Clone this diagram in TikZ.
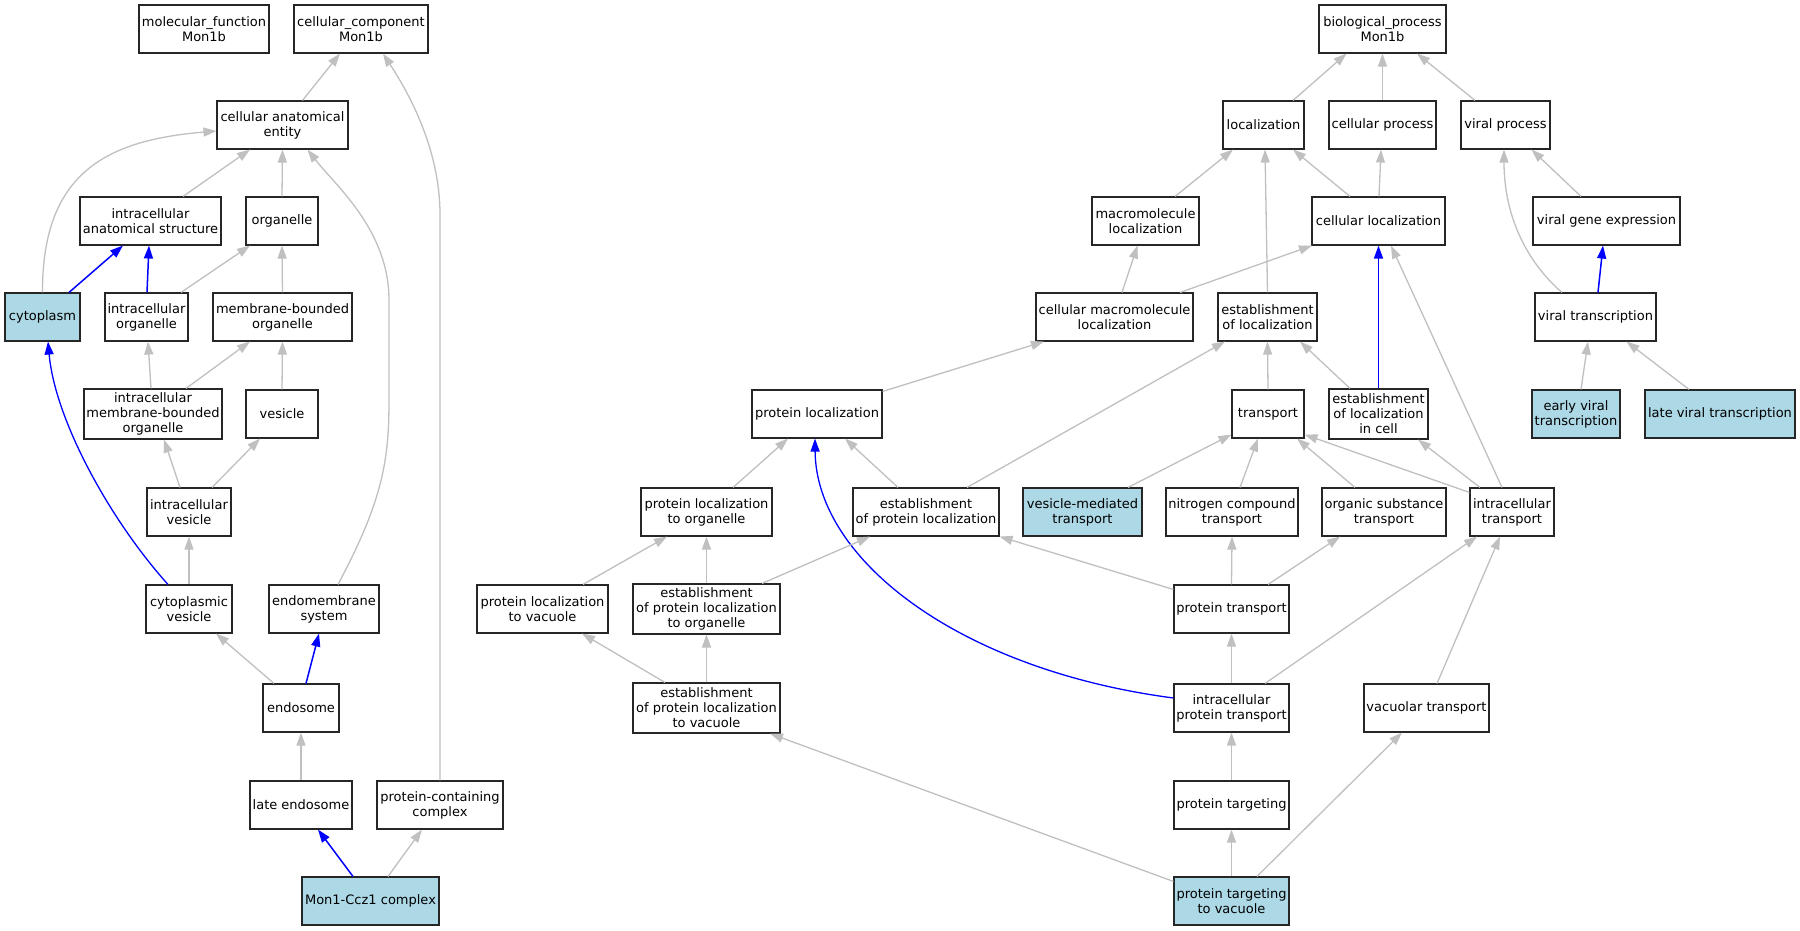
\documentclass[tikz,border=0pt]{standalone}
\usepackage{fontspec}
\setmainfont{DejaVu Sans}
\usetikzlibrary{arrows.meta}
\definecolor{lightblue}{HTML}{ADD8E6}
\definecolor{edgegray}{HTML}{C0C0C0}
\begin{document}
\begin{tikzpicture}[x=1pt,y=-1pt,
  box/.style={draw=black!85, line width=1.1pt, rectangle, inner sep=0pt, align=center,
    minimum height=48pt, font=\fontsize{13}{15}\selectfont, fill=white},
  hl/.style={box, fill=lightblue},
  gedge/.style={draw=edgegray, line width=1.3pt, -{Triangle[length=13pt,width=9pt]}},
  bedge/.style={draw=blue, line width=1.5pt, -{Triangle[length=13pt,width=9pt]}},
  bcurve/.style={draw=blue, line width=1.3pt, -{Triangle[length=13pt,width=9pt]}}
]
\useasboundingbox[fill=white] (0,0) rectangle (1800,931);

% ---------- left: cellular component ----------
\node[box, minimum width=130pt] (mf) at (204,29) {molecular\_function\\Mon1b};
\node[box, minimum width=134pt] (cc) at (361,29) {cellular\_component\\Mon1b};
\node[box, minimum width=131pt] (cae) at (282.5,125) {cellular anatomical\\entity};
\node[box, minimum width=141pt] (ias) at (150.5,221) {intracellular\\anatomical structure};
\node[box, minimum width=72pt] (org) at (282,221) {organelle};
\node[hl, minimum width=75pt] (cyto) at (42.5,317) {cytoplasm};
\node[box, minimum width=83pt] (io) at (146.5,317) {intracellular\\organelle};
\node[box, minimum width=139pt] (mbo) at (282.5,317) {membrane-bounded\\organelle};
\node[box, minimum width=138pt, minimum height=50pt] (imbo) at (153,414) {intracellular\\membrane-bounded\\organelle};
\node[box, minimum width=72pt] (ves) at (282,414) {vesicle};
\node[box, minimum width=84pt] (iv) at (189,512) {intracellular\\vesicle};
\node[box, minimum width=86pt] (cv) at (189,609) {cytoplasmic\\vesicle};
\node[box, minimum width=110pt] (ems) at (324,609) {endomembrane\\system};
\node[box, minimum width=76pt] (endo) at (301,708) {endosome};
\node[box, minimum width=102pt] (le) at (301,805) {late endosome};
\node[box, minimum width=126pt] (pcc) at (440,805) {protein-containing\\complex};
\node[hl, minimum width=137pt] (mon) at (370.5,901) {Mon1-Ccz1 complex};

% ---------- right: biological process ----------
\node[box, minimum width=130pt] (pl) at (817,414) {protein localization};
\node[box, minimum width=131pt] (plo) at (706.5,512) {protein localization\\to organelle};
\node[box, minimum width=131pt] (plv) at (542.5,609) {protein localization\\to vacuole};
\node[box, minimum width=147pt, minimum height=50pt] (eplo) at (706.5,609) {establishment\\of protein localization\\to organelle};
\node[box, minimum width=147pt, minimum height=50pt] (eplv) at (706.5,708) {establishment\\of protein localization\\to vacuole};
\node[box, minimum width=127pt] (bp) at (1382.5,29) {biological\_process\\Mon1b};
\node[box, minimum width=81pt] (loc) at (1263.5,125) {localization};
\node[box, minimum width=107pt] (cp) at (1382.5,125) {cellular process};
\node[box, minimum width=89pt] (vp) at (1505.5,125) {viral process};
\node[box, minimum width=107pt] (ml) at (1145.5,221) {macromolecule\\localization};
\node[box, minimum width=133pt] (cl) at (1378.5,221) {cellular localization};
\node[box, minimum width=147pt] (vge) at (1606.5,221) {viral gene expression};
\node[box, minimum width=157pt] (cml) at (1114.5,317) {cellular macromolecule\\localization};
\node[box, minimum width=99pt] (eol) at (1267.5,317) {establishment\\of localization};
\node[box, minimum width=121pt] (vt) at (1595.5,317) {viral transcription};
\node[box, minimum width=72pt] (tr) at (1268,414) {transport};
\node[box, minimum width=99pt, minimum height=50pt] (eolc) at (1378.5,414) {establishment\\of localization\\in cell};
\node[hl, minimum width=88pt] (evt) at (1576,414) {early viral\\transcription};
\node[hl, minimum width=150pt] (lvt) at (1720,414) {late viral transcription};
\node[box, minimum width=146pt] (epl) at (926,512) {establishment\\of protein localization};
\node[hl, minimum width=119pt] (vmt) at (1082.5,512) {vesicle-mediated\\transport};
\node[box, minimum width=132pt] (nct) at (1232,512) {nitrogen compound\\transport};
\node[box, minimum width=124pt] (ost) at (1384,512) {organic substance\\transport};
\node[box, minimum width=84pt] (it) at (1512,512) {intracellular\\transport};
\node[box, minimum width=115pt] (pt) at (1231.5,609) {protein transport};
\node[box, minimum width=115pt] (ipt) at (1231.5,708) {intracellular\\protein transport};
\node[box, minimum width=115pt] (ptg) at (1231.5,805) {protein targeting};
\node[hl, minimum width=115pt] (ptv) at (1231.5,901) {protein targeting\\to vacuole};
\node[box, minimum width=125pt] (vac) at (1426.5,708) {vacuolar transport};

% ---------- edges: left ----------
\draw[gedge] ([xshift=20pt]cae.north) -- ([xshift=-21pt]cc.south);
\draw[gedge] (pcc.north) -- (440,215) .. controls (440,150) and (410,95) .. ([xshift=22pt]cc.south);
\draw[gedge] ([xshift=32.5pt]ias.north) -- ([xshift=-32.5pt]cae.south);
\draw[gedge] (cyto.north) .. controls (42,170) and (110,140) .. ([yshift=-6pt]cae.west);
\draw[gedge] (org.north) -- (cae.south);
\draw[gedge] ([xshift=14pt]ems.north) .. controls (383,500) and (389,460) .. (389,400) -- (389,300) .. controls (389,230) and (335,185) .. ([xshift=25pt]cae.south);
\draw[bedge] ([xshift=26.5pt]cyto.north) -- ([xshift=-27.5pt]ias.south);
\draw[bedge] ([xshift=0.5pt]io.north) -- ([xshift=-1.5pt]ias.south);
\draw[gedge] ([xshift=34.5pt]io.north) -- ([xshift=-32pt]org.south);
\draw[gedge] (mbo.north) -- (org.south);
\draw[bcurve] ([xshift=-21pt]cv.north) .. controls (110,520) and (55,420) .. ([xshift=5.5pt]cyto.south);
\draw[gedge] ([xshift=-2pt]imbo.north) -- ([xshift=1.5pt]io.south);
\draw[gedge] ([xshift=33pt]imbo.north) -- ([xshift=-32.5pt]mbo.south);
\draw[gedge] (ves.north) -- (mbo.south);
\draw[gedge] ([xshift=-9pt]iv.north) -- ([xshift=11pt]imbo.south);
\draw[gedge] ([xshift=23pt]iv.north) -- ([xshift=-22pt]ves.south);
\draw[gedge] (cv.north) -- (iv.south);
\draw[gedge] ([xshift=-27pt]endo.north) -- ([xshift=27pt]cv.south);
\draw[bedge] ([xshift=5pt]endo.north) -- ([xshift=-5pt]ems.south);
\draw[gedge] (le.north) -- (endo.south);
\draw[bedge] ([xshift=-17.5pt]mon.north) -- ([xshift=17pt]le.south);
\draw[gedge] ([xshift=17.5pt]mon.north) -- ([xshift=-18pt]pcc.south);

% ---------- edges: right ----------
\draw[gedge] ([xshift=29.5pt]loc.north) -- ([xshift=-36pt]bp.south);
\draw[gedge] (cp.north) -- (bp.south);
\draw[gedge] ([xshift=-30.5pt]vp.north) -- ([xshift=34.5pt]bp.south);
\draw[gedge] ([xshift=29.5pt]ml.north) -- ([xshift=-30.5pt]loc.south);
\draw[gedge] (eol.north) -- ([xshift=1.5pt]loc.south);
\draw[gedge] ([xshift=-28.5pt]cl.north) -- ([xshift=29.5pt]loc.south);
\draw[gedge] ([xshift=0.5pt]cl.north) -- ([xshift=-1.5pt]cp.south);
\draw[gedge] ([xshift=7.5pt]cml.north) -- ([xshift=-8pt]ml.south);
\draw[gedge] ([xshift=65.5pt]cml.north) -- ([xshift=-66.5pt]cl.south);
\draw[gedge] ([xshift=-25.5pt]vge.north) -- ([xshift=26pt]vp.south);
\draw[gedge] ([xshift=-33.5pt]vt.north) .. controls (1530,265) and (1504,220) .. ([xshift=-1.5pt]vp.south);
\draw[bedge] ([xshift=2.5pt]vt.north) -- ([xshift=-3.5pt]vge.south);
\draw[gedge] ([xshift=5pt]evt.north) -- ([xshift=-7.5pt]vt.south);
\draw[gedge] ([xshift=-31pt]lvt.north) -- ([xshift=31pt]vt.south);
\draw[bedge] (eolc.north) -- (cl.south);
\draw[gedge] ([yshift=-2pt]pl.north east) -- ([xshift=-70.5pt]cml.south);
\draw[gedge] (tr.north) -- (eol.south);
\draw[gedge] ([xshift=-28.5pt]eolc.north) -- ([xshift=32.5pt]eol.south);
\draw[gedge] ([xshift=41pt]epl.north) -- ([xshift=-42.5pt]eol.south);
\draw[gedge] ([xshift=26.5pt]plo.north) -- ([xshift=-29pt]pl.south);
\draw[gedge] ([xshift=-28pt]epl.north) -- ([xshift=28pt]pl.south);
\draw[bcurve] ([yshift=10pt]ipt.west) .. controls (960,670) and (816,560) .. ([xshift=-2pt]pl.south);
\draw[gedge] ([xshift=45.5pt]vmt.north) -- ([yshift=4pt]tr.south west);
\draw[gedge] ([xshift=8pt]nct.north) -- ([xshift=-10pt]tr.south);
\draw[gedge] ([xshift=-29pt]ost.north) -- ([xshift=29pt]tr.south);
\draw[gedge] ([yshift=-5pt]it.north west) -- ([yshift=4pt]tr.south east);
\draw[gedge] ([xshift=-32pt]it.north) -- ([xshift=39.5pt]eolc.south);
\draw[gedge] ([xshift=-10pt]it.north) -- ([xshift=12.5pt]cl.south);
\draw[gedge] ([xshift=40.5pt]plv.north) -- ([xshift=-39.5pt]plo.south);
\draw[gedge] (eplo.north) -- (plo.south);
\draw[gedge] ([xshift=55.5pt]eplo.north) -- ([xshift=-56pt]epl.south);
\draw[gedge] ([yshift=-5pt]pt.north west) -- (epl.south east);
\draw[gedge] (pt.north) -- (nct.south);
\draw[gedge] ([xshift=36.5pt]pt.north) -- ([xshift=-44pt]ost.south);
\draw[gedge] ([xshift=-41.5pt]eplv.north) -- ([xshift=39.5pt]plv.south);
\draw[gedge] (eplv.north) -- (eplo.south);
\draw[gedge] (ipt.north) -- (pt.south);
\draw[gedge] ([xshift=33.5pt]ipt.north) -- ([xshift=-35pt]it.south);
\draw[gedge] (ptg.north) -- (ipt.south);
\draw[gedge] ([yshift=-5pt]ptv.north west) -- ([xshift=63.5pt]eplv.south);
\draw[gedge] (ptv.north) -- (ptg.south);
\draw[gedge] ([xshift=25.5pt]ptv.north) -- ([xshift=-24.5pt]vac.south);
\draw[gedge] ([xshift=10.5pt]vac.north) -- ([xshift=-12pt]it.south);
\end{tikzpicture}
\end{document}
